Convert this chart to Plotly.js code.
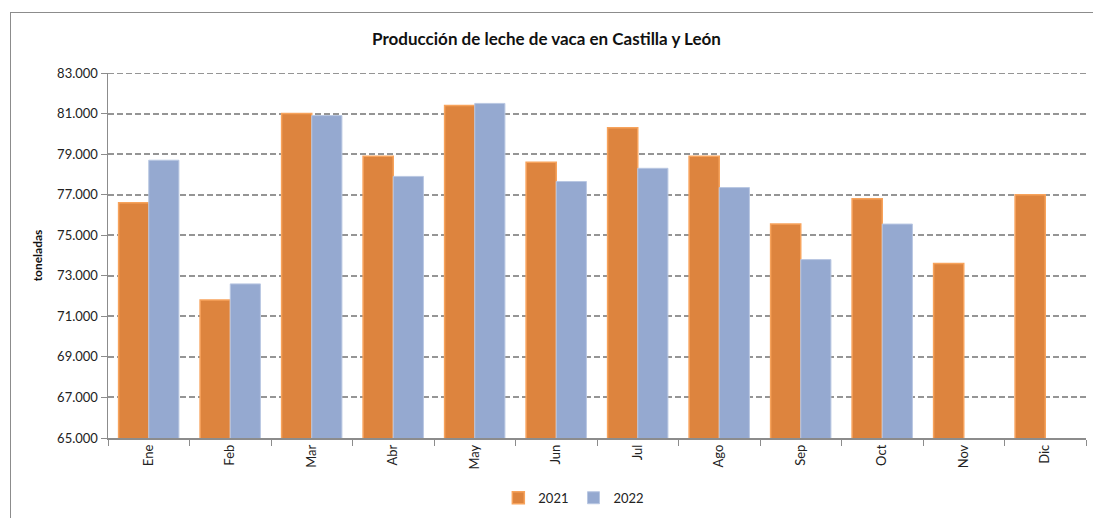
<!DOCTYPE html>
<html><head><meta charset="utf-8">
<script src="https://cdn.plot.ly/plotly-3.0.1.min.js"></script>
<style>
html,body{margin:0;padding:0;background:#fff;}
#wrap{position:relative;width:1093px;height:518px;}
#chart{width:1093px;height:518px;}
#frame{position:absolute;left:10px;top:12px;width:1100px;height:520px;border-left:1px solid #8c8c8c;border-top:1px solid #8c8c8c;pointer-events:none;}
</style></head>
<body>
<div id="wrap"><div id="chart"></div><div id="frame"></div></div>
<script>
const months = ["Ene","Feb","Mar","Abr","May","Jun","Jul","Ago","Sep","Oct","Nov","Dic"];
const values2021 = [76600, 71800, 81000, 78900, 81400, 78600, 80300, 78900, 75550, 76800, 73600, 77000];
const values2022 = [78700, 72600, 80900, 77900, 81500, 77650, 78300, 77350, 73800, 75550, null, null];
const seriesNames = ["2021", "2022"];
const yTicks = [65000, 67000, 69000, 71000, 73000, 75000, 77000, 79000, 81000, 83000];

const font = "Lato, 'Open Sans', sans-serif";
const traces = [
  {type:"bar", name:seriesNames[0], x:months, y:values2021,
   marker:{color:"#DD843E", line:{color:"#F7A35C", width:1.5}}},
  {type:"bar", name:seriesNames[1], x:months, y:values2022,
   marker:{color:"#95A9D0", line:{color:"#B9C7E2", width:1}}}
];
const layout = {
  width:1093, height:518,
  margin:{l:108, r:7, t:73, b:80},
  paper_bgcolor:"#fff", plot_bgcolor:"#fff",
  font:{family:font, size:13, color:"#222"},
  separators:",.",
  title:{text:"<b>Producción de leche de vaca en Castilla y León</b>", font:{size:17, color:"#111", family:font}, x:0.5, xanchor:"center", y:0.925, yanchor:"middle"},
  barmode:"group", bargap:0.26, bargroupgap:0,
  xaxis:{type:"category", automargin:false, showline:true, linecolor:"#8c8c8c", linewidth:1.5, ticks:"outside", tickson:"boundaries", ticklen:6, tickcolor:"#8c8c8c", tickangle:-90, tickfont:{size:13, color:"#222"}, showgrid:false},
  yaxis:{range:[65000,83000], automargin:false, tickvals:yTicks, tickformat:",.0f", showline:true, linecolor:"#8c8c8c", linewidth:1.5, ticks:"outside", ticklen:6, tickcolor:"#8c8c8c", showgrid:true, gridcolor:"#959595", griddash:"6px,3px", gridwidth:2, zeroline:false, tickfont:{size:13, color:"#222"},
    title:{text:"<b>toneladas</b>", font:{size:12, color:"#111"}, standoff:12}},
  shapes:[{type:"line", xref:"paper", yref:"y", x0:0, x1:1, y0:83000, y1:83000, line:{color:"#959595", width:2, dash:"6px,3px"}}],
  showlegend:true,
  legend:{orientation:"h", xref:"container", yref:"container", x:0.525, xanchor:"center", y:0.039, yanchor:"middle", font:{size:13, color:"#222"}}
};
Plotly.newPlot("chart", traces, layout, {displayModeBar:false, staticPlot:true});
</script>
</body></html>
